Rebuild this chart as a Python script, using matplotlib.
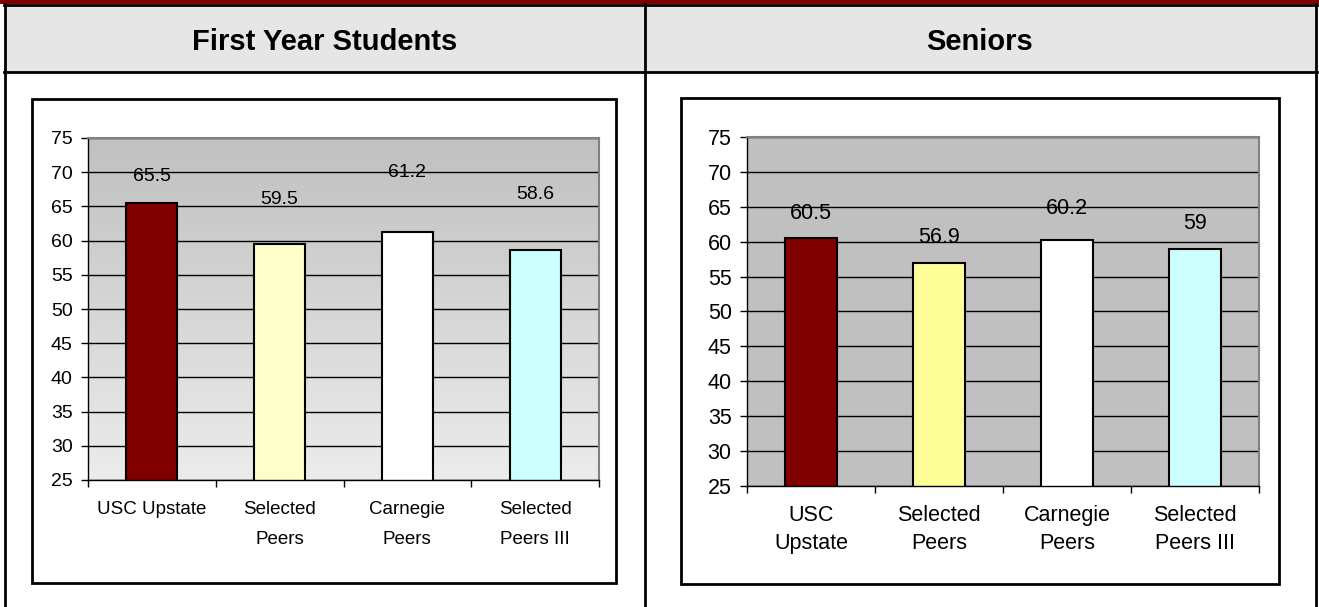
import numpy as np
import matplotlib
matplotlib.use('Agg')
import matplotlib.pyplot as plt
from matplotlib.patches import Rectangle
from matplotlib.lines import Line2D
from matplotlib.colors import LinearSegmentedColormap

plt.rcParams['font.family'] = ['Liberation Sans', 'DejaVu Sans']

# data
groups = ['First Year Students', 'Seniors']
first_year_labels = ['USC Upstate', 'Selected\nPeers', 'Carnegie\nPeers', 'Selected\nPeers III']
senior_labels = ['USC\nUpstate', 'Selected\nPeers', 'Carnegie\nPeers', 'Selected\nPeers III']
first_year_vals = [65.5, 59.5, 61.2, 58.6]
senior_vals = [60.5, 56.9, 60.2, 59]
y_ticks = [25, 30, 35, 40, 45, 50, 55, 60, 65, 70, 75]

# styling
first_year_colors = ['#800000', '#ffffcc', '#ffffff', '#ccffff']
senior_colors = ['#800000', '#ffff99', '#ffffff', '#ccffff']
first_year_label_off = [3.9, 6.5, 8.7, 8.2]
senior_label_off = [3.6, 3.7, 4.5, 3.6]

W, H = 1319, 607
fig = plt.figure(figsize=(W / 100, H / 100), dpi=100)


def box(x0, y0, x1, y1):
    # pixel box (top-left origin) -> figure fraction rect
    return [x0 / W, 1 - y1 / H, (x1 - x0) / W, (y1 - y0) / H]


def hline(y, x0, x1, **kw):
    fig.add_artist(Line2D([x0 / W, x1 / W], [1 - y / H, 1 - y / H], transform=fig.transFigure, **kw))


def vline(x, y0, y1, **kw):
    fig.add_artist(Line2D([x / W, x / W], [1 - y0 / H, 1 - y1 / H], transform=fig.transFigure, **kw))


# table frame
fig.add_artist(Rectangle((0, 1 - 4 / H), 1, 4 / H, transform=fig.transFigure, color='#800000', lw=0))
fig.add_artist(Rectangle((4.5 / W, 1 - 72 / H), (1315.5 - 4.5) / W, (72 - 5) / H,
                         transform=fig.transFigure, color='#e6e6e6', lw=0, zorder=-2))
hline(5, 3.5, 1316.5, color='black', lw=2)
hline(72, 3.5, 1316.5, color='black', lw=2)
vline(4.5, 4, 607, color='black', lw=2)
vline(645, 4, 607, color='black', lw=2)
vline(1315.5, 4, 607, color='black', lw=2)

fig.text(325 / W, 1 - 42 / H, groups[0], ha='center', va='center', fontsize=21, fontweight='bold')
fig.text(980 / W, 1 - 42 / H, groups[1], ha='center', va='center', fontsize=21, fontweight='bold')

# chart boxes
for b in [(32, 99, 616, 583), (681, 98, 1279, 584)]:
    r = box(*b)
    fig.add_artist(Rectangle((r[0], r[1]), r[2], r[3], transform=fig.transFigure,
                             facecolor='white', edgecolor='black', lw=2, zorder=-1))


def draw(rect, labels, vals, colors, offs, fs, cat_fs, gradient, lsp, cat_pad):
    ax = fig.add_axes(rect)
    x = np.arange(len(vals))
    ax.set_facecolor('#c0c0c0')
    if gradient:
        cmap = LinearSegmentedColormap.from_list('g', ['#ececec', '#c0c0c0'])
        ax.imshow(np.linspace(0, 1, 256)[:, None], extent=[-0.5, 3.5, 25, 75], origin='lower',
                  aspect='auto', cmap=cmap, zorder=-1)
    ax.bar(x, vals, width=0.4, color=colors, edgecolor='black', lw=1.5, zorder=2)
    for i, v in enumerate(vals):
        ax.text(i, v + offs[i], f'{v:g}', ha='center', va='center', fontsize=fs, zorder=3)
    ax.set_xlim(-0.5, 3.5)
    ax.set_ylim(25, 75)
    ax.set_yticks(y_ticks)
    ax.set_yticklabels([str(t) for t in y_ticks], fontsize=fs)
    ax.set_xticks(x)
    ax.set_xticklabels(labels, fontsize=cat_fs, linespacing=lsp, va='top')
    ax.set_xticks([-0.5, 0.5, 1.5, 2.5, 3.5], minor=True)
    ax.tick_params(axis='x', which='major', length=0, pad=cat_pad)
    ax.tick_params(axis='x', which='minor', length=5, width=1, direction='out')
    ax.tick_params(axis='y', length=5, width=1, direction='out', pad=6)
    ax.yaxis.grid(True, color='black', lw=1)
    ax.set_axisbelow(True)
    for s in ['left', 'bottom']:
        ax.spines[s].set_color('black')
        ax.spines[s].set_linewidth(1)
    for s in ['top', 'right']:
        ax.spines[s].set_color('#808080')
        ax.spines[s].set_linewidth(1.5)
    return ax


draw(box(88, 138, 599, 480), first_year_labels, first_year_vals, first_year_colors,
     first_year_label_off, 14, 13.5, True, 2.0, 15)
draw(box(747, 137, 1259, 486), senior_labels, senior_vals, senior_colors,
     senior_label_off, 15.5, 15.5, False, 1.4, 14)

fig.savefig('out.png', dpi=100)
